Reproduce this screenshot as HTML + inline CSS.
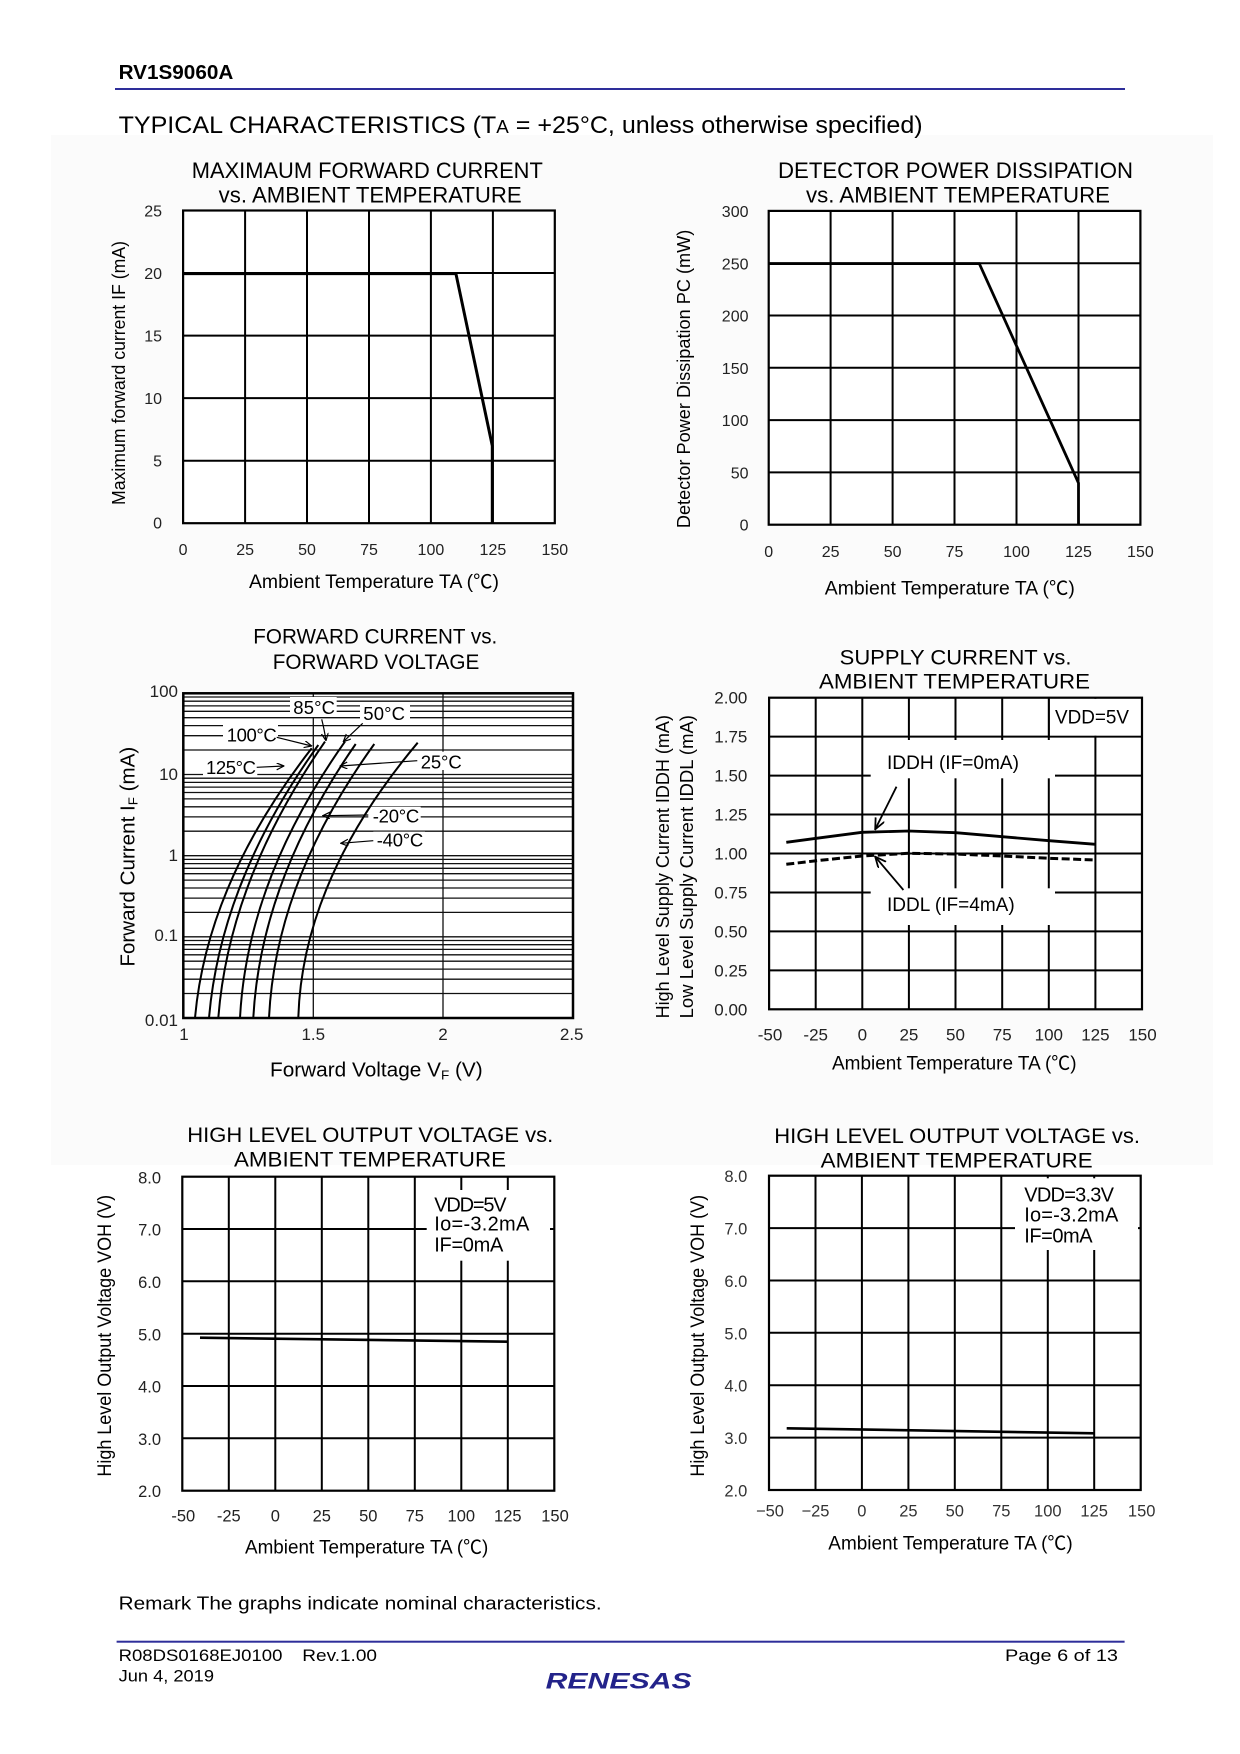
<!DOCTYPE html>
<html><head><meta charset="utf-8"><style>html,body{margin:0;padding:0;background:#fff}svg{display:block}</style></head>
<body>
<svg width="1240" height="1754" viewBox="0 0 1240 1754" xmlns="http://www.w3.org/2000/svg" font-family="'Liberation Sans', 'Noto Sans CJK JP', Arial, sans-serif" fill="#000">
<defs>
<marker id="ah" viewBox="0 0 8 8" refX="7.5" refY="3.5" markerWidth="8" markerHeight="8" markerUnits="userSpaceOnUse" orient="auto"><path d="M0,0 L7.5,3.5 L0,7" fill="none" stroke="#000" stroke-width="1.2"/></marker>
<marker id="ah2" viewBox="0 0 12 12" refX="11" refY="5" markerWidth="12" markerHeight="12" markerUnits="userSpaceOnUse" orient="auto"><path d="M0,0 L11,5 L0,10" fill="none" stroke="#000" stroke-width="1.8"/></marker>
</defs>
<rect width="1240" height="1754" fill="#fff"/>
<rect x="51" y="135" width="1162" height="1030" fill="#fbfbfb"/>

<!-- Header -->
<text x="118.6" y="79" font-size="20" font-weight="bold" textLength="114.7" lengthAdjust="spacingAndGlyphs">RV1S9060A</text>
<rect x="115" y="88" width="1010" height="2" fill="#2e2e9a"/>
<text x="118.6" y="133" font-size="24" textLength="804" lengthAdjust="spacingAndGlyphs">TYPICAL CHARACTERISTICS (T<tspan font-size="18">A</tspan> = +25°C, unless otherwise specified)</text>

<!-- ============ Chart 1 ============ -->
<text x="191.8" y="178.2" font-size="22" textLength="351" lengthAdjust="spacingAndGlyphs">MAXIMAUM FORWARD CURRENT</text>
<text x="218.7" y="202.3" font-size="22" textLength="303" lengthAdjust="spacingAndGlyphs">vs. AMBIENT TEMPERATURE</text>
<rect x="183.1" y="210.5" width="371.7" height="312.7" fill="#fff"/>
<path d="M245.1,210.5V523.2M307,210.5V523.2M369,210.5V523.2M430.9,210.5V523.2M492.9,210.5V523.2M183.1,273H554.8M183.1,335.6H554.8M183.1,398.1H554.8M183.1,460.7H554.8" stroke="#000" stroke-width="2" fill="none"/>
<rect x="183.1" y="210.5" width="371.7" height="312.7" fill="none" stroke="#000" stroke-width="2.2"/>
<path d="M183.1,273.6H455.9L492.3,445.8V523.2" fill="none" stroke="#000" stroke-width="3"/>
<g font-size="16" text-anchor="end" fill="#222">
<text x="162" y="216.5">25</text><text x="162" y="279">20</text><text x="162" y="341.6">15</text><text x="162" y="404.1">10</text><text x="162" y="466.7">5</text><text x="162" y="528.7">0</text>
</g>
<g font-size="16" text-anchor="middle" fill="#222">
<text x="183.1" y="555">0</text><text x="245.1" y="555">25</text><text x="307" y="555">50</text><text x="369" y="555">75</text><text x="430.9" y="555">100</text><text x="492.9" y="555">125</text><text x="554.8" y="555">150</text>
</g>
<text x="249" y="588" font-size="19" textLength="250" lengthAdjust="spacingAndGlyphs">Ambient Temperature  TA  (℃)</text>
<text transform="translate(125,373) rotate(-90)" text-anchor="middle" font-size="18" textLength="264" lengthAdjust="spacingAndGlyphs">Maximum forward current IF  (mA)</text>

<!-- ============ Chart 2 ============ -->
<text x="778" y="178.2" font-size="22" textLength="355" lengthAdjust="spacingAndGlyphs">DETECTOR POWER DISSIPATION</text>
<text x="806" y="202.3" font-size="22" textLength="304" lengthAdjust="spacingAndGlyphs">vs. AMBIENT TEMPERATURE</text>
<rect x="768.7" y="210.9" width="371.7" height="313.8" fill="#fff"/>
<path d="M830.6,210.9V524.7M892.6,210.9V524.7M954.5,210.9V524.7M1016.5,210.9V524.7M1078.5,210.9V524.7M768.7,263.2H1140.4M768.7,315.5H1140.4M768.7,367.8H1140.4M768.7,420.1H1140.4M768.7,472.4H1140.4" stroke="#000" stroke-width="2" fill="none"/>
<rect x="768.7" y="210.9" width="371.7" height="313.8" fill="none" stroke="#000" stroke-width="2.2"/>
<path d="M768.7,263.6H979.3L1078.5,483V524.7" fill="none" stroke="#000" stroke-width="2.8"/>
<g font-size="16" text-anchor="end" fill="#222">
<text x="748.5" y="217">300</text><text x="748.5" y="269.3">250</text><text x="748.5" y="321.6">200</text><text x="748.5" y="373.9">150</text><text x="748.5" y="426.2">100</text><text x="748.5" y="478.5">50</text><text x="748.5" y="530.5">0</text>
</g>
<g font-size="16" text-anchor="middle" fill="#222">
<text x="768.7" y="557">0</text><text x="830.6" y="557">25</text><text x="892.6" y="557">50</text><text x="954.5" y="557">75</text><text x="1016.5" y="557">100</text><text x="1078.5" y="557">125</text><text x="1140.4" y="557">150</text>
</g>
<text x="824.8" y="594.3" font-size="19" textLength="250" lengthAdjust="spacingAndGlyphs">Ambient Temperature  TA  (℃)</text>
<text transform="translate(690,378.9) rotate(-90)" text-anchor="middle" font-size="18" textLength="298.5" lengthAdjust="spacingAndGlyphs">Detector Power Dissipation  PC (mW)</text>

<!-- ============ Chart 3 ============ -->
<text x="253.3" y="643.5" font-size="21" textLength="244" lengthAdjust="spacingAndGlyphs">FORWARD CURRENT vs.</text>
<text x="272.7" y="669.2" font-size="21" textLength="206.6" lengthAdjust="spacingAndGlyphs">FORWARD VOLTAGE</text>
<rect x="183.3" y="693.3" width="389.7" height="324.7" fill="#fff"/>
<path d="M183.3,697H573M183.3,701.2H573M183.3,705.9H573M183.3,711.3H573M183.3,717.7H573M183.3,725.6H573M183.3,735.7H573M183.3,750H573M183.3,774.5H573
M183.3,778.2H573M183.3,782.4H573M183.3,787.1H573M183.3,792.5H573M183.3,798.9H573M183.3,806.8H573M183.3,816.9H573M183.3,831.2H573M183.3,855.7H573
M183.3,859.4H573M183.3,863.6H573M183.3,868.3H573M183.3,873.7H573M183.3,880.1H573M183.3,888H573M183.3,898.1H573M183.3,912.4H573M183.3,936.8H573
M183.3,940.5H573M183.3,944.7H573M183.3,949.4H573M183.3,954.8H573M183.3,961.2H573M183.3,969.1H573M183.3,979.2H573M183.3,993.5H573
M313.3,693.3V1018M443,693.3V1018" stroke="#111" stroke-width="1.3" fill="none"/>
<rect x="183.3" y="693.3" width="389.7" height="324.7" fill="none" stroke="#000" stroke-width="2.5"/>
<!-- label backgrounds -->
<g fill="#fff">
<rect x="290" y="697" width="46.7" height="20"/>
<rect x="360" y="705" width="50" height="17"/>
<rect x="223" y="725" width="55" height="18.5"/>
<rect x="203" y="756.7" width="54.3" height="19.3"/>
<rect x="417.3" y="751.7" width="46" height="18.3"/>
<rect x="368.3" y="806.7" width="52.4" height="18.3"/>
<rect x="373.3" y="831.7" width="51.7" height="17.6"/>
</g>
<g font-size="18.5" lengthAdjust="spacingAndGlyphs">
<text x="293.3" y="714" textLength="41.7">85°C</text>
<text x="363.3" y="720" textLength="41.7">50°C</text>
<text x="226.7" y="741.7" textLength="50">100°C</text>
<text x="206" y="774" textLength="50">125°C</text>
<text x="420.7" y="768.3" textLength="41">25°C</text>
<text x="372.7" y="822.7" textLength="46.6">-20°C</text>
<text x="376.7" y="846.7" textLength="46.6">-40°C</text>
</g>
<g fill="none" stroke="#000" stroke-width="2">
<path d="M195,1018 Q207,882.6 311.7,748.3"/>
<path d="M209,1018 Q220.7,880.7 318.3,745"/>
<path d="M218.3,1018 Q229,879.8 325,741.6"/>
<path d="M240,1018 Q247.1,879.8 345,741.6"/>
<path d="M253.3,1018 Q260.6,881 355.7,744"/>
<path d="M269,1018 Q275.5,881 374.3,744"/>
<path d="M298.3,1018 Q302.2,880.4 417.7,742.7"/>
</g>
<g fill="none" stroke="#000" stroke-width="1.2" marker-end="url(#ah)">
<path d="M276.7,737.3L311.7,746"/>
<path d="M321.7,719.3Q324,728 326,740.7"/>
<path d="M362.7,723.3L343.3,741.7"/>
<path d="M256.7,767.3L284,766"/>
<path d="M417.3,760.7L340,766"/>
<path d="M368.3,815L322.7,815.7"/>
<path d="M373.3,840.7L340.7,843.3"/>
</g>
<g font-size="17" text-anchor="end" fill="#222">
<text x="178" y="697">100</text><text x="178" y="780">10</text><text x="178" y="861">1</text><text x="178" y="941">0.1</text><text x="178" y="1026">0.01</text>
</g>
<g font-size="17" text-anchor="middle" fill="#222">
<text x="184" y="1040">1</text><text x="313.3" y="1040">1.5</text><text x="443" y="1040">2</text><text x="571.7" y="1040">2.5</text>
</g>
<text x="270" y="1076.7" font-size="20" textLength="212.7" lengthAdjust="spacingAndGlyphs">Forward Voltage V<tspan font-size="13" dy="3">F</tspan><tspan dy="-3"> (V)</tspan></text>
<text transform="translate(134.5,856.7) rotate(-90)" text-anchor="middle" font-size="20" textLength="220" lengthAdjust="spacingAndGlyphs">Forward Current I<tspan font-size="13" dy="3">F</tspan><tspan dy="-3"> (mA)</tspan></text>

<!-- ============ Chart 4 ============ -->
<text x="839.7" y="664.4" font-size="21" textLength="231.8" lengthAdjust="spacingAndGlyphs">SUPPLY CURRENT vs.</text>
<text x="819" y="688.7" font-size="21" textLength="271" lengthAdjust="spacingAndGlyphs">AMBIENT TEMPERATURE</text>
<rect x="769.1" y="697.7" width="372.9" height="311.6" fill="#fff"/>
<path d="M815.7,697.7V1009.3M862.3,697.7V1009.3M908.9,697.7V1009.3M955.5,697.7V1009.3M1002.2,697.7V1009.3M1048.8,697.7V1009.3M1095.4,697.7V1009.3
M769.1,736.65H1142M769.1,775.6H1142M769.1,814.55H1142M769.1,853.5H1142M769.1,892.45H1142M769.1,931.4H1142M769.1,970.35H1142" stroke="#000" stroke-width="2" fill="none"/>
<rect x="1050" y="698.8" width="91" height="36.8" fill="#fff"/>
<path d="M1049.3,697.7V736.6" stroke="#000" stroke-width="1"/>
<rect x="870.7" y="740" width="184.3" height="38.3" fill="#fff"/>
<rect x="870.7" y="888.3" width="184.3" height="36.7" fill="#fff"/>
<rect x="769.1" y="697.7" width="372.9" height="311.6" fill="none" stroke="#000" stroke-width="2.2"/>
<text x="1055" y="723.3" font-size="19" textLength="74" lengthAdjust="spacingAndGlyphs">VDD=5V</text>
<text x="887" y="769" font-size="19" textLength="132" lengthAdjust="spacingAndGlyphs">IDDH (IF=0mA)</text>
<text x="887" y="911" font-size="19" textLength="127.7" lengthAdjust="spacingAndGlyphs">IDDL (IF=4mA)</text>
<polyline points="786.3,842.3 816.3,838.3 862.1,832.3 908.6,831 955.8,832.7 1002.3,836.7 1049.1,840.7 1095.6,844.3" fill="none" stroke="#000" stroke-width="2.8" stroke-linejoin="round"/>
<polyline points="786.3,864.3 816.3,860.7 862.1,856 908.6,853.3 955.8,854 1002.3,856 1049.1,858.3 1095.6,860" fill="none" stroke="#000" stroke-width="3" stroke-dasharray="8,3.5"/>
<g fill="none" stroke="#000" stroke-width="1.8" marker-end="url(#ah2)">
<path d="M896.5,786.7L875.2,829.3"/>
<path d="M903.4,890L875.2,856.7"/>
</g>
<g font-size="17" text-anchor="end" fill="#222">
<text x="747.4" y="703.7">2.00</text><text x="747.4" y="742.6">1.75</text><text x="747.4" y="781.6">1.50</text><text x="747.4" y="820.5">1.25</text><text x="747.4" y="859.5">1.00</text><text x="747.4" y="898.4">0.75</text><text x="747.4" y="937.4">0.50</text><text x="747.4" y="976.3">0.25</text><text x="747.4" y="1015.3">0.00</text>
</g>
<g font-size="17" text-anchor="middle" fill="#222">
<text x="770" y="1040.7">-50</text><text x="815.7" y="1040.7">-25</text><text x="862.3" y="1040.7">0</text><text x="908.9" y="1040.7">25</text><text x="955.5" y="1040.7">50</text><text x="1002.2" y="1040.7">75</text><text x="1048.8" y="1040.7">100</text><text x="1095.4" y="1040.7">125</text><text x="1142.5" y="1040.7">150</text>
</g>
<text x="832" y="1069.3" font-size="19" textLength="244.6" lengthAdjust="spacingAndGlyphs">Ambient Temperature TA  (℃)</text>
<text transform="translate(669,866.7) rotate(-90)" text-anchor="middle" font-size="18.5" textLength="303.3" lengthAdjust="spacingAndGlyphs">High Level Supply Current IDDH  (mA)</text>
<text transform="translate(693,866.7) rotate(-90)" text-anchor="middle" font-size="18.5" textLength="303.3" lengthAdjust="spacingAndGlyphs">Low Level Supply Current IDDL  (mA)</text>

<!-- ============ Chart 5 ============ -->
<text x="187.3" y="1142" font-size="21.5" textLength="366" lengthAdjust="spacingAndGlyphs">HIGH LEVEL OUTPUT VOLTAGE vs.</text>
<text x="234" y="1166.3" font-size="21.5" textLength="272" lengthAdjust="spacingAndGlyphs">AMBIENT TEMPERATURE</text>
<rect x="182.3" y="1176.7" width="372" height="314" fill="#fff"/>
<path d="M228.8,1176.7V1490.7M275.3,1176.7V1490.7M321.8,1176.7V1490.7M368.3,1176.7V1490.7M414.8,1176.7V1490.7M461.3,1176.7V1490.7M507.8,1176.7V1490.7
M182.3,1229H554.3M182.3,1281.3H554.3M182.3,1333.7H554.3M182.3,1386H554.3M182.3,1438.3H554.3" stroke="#000" stroke-width="2" fill="none"/>
<rect x="426.7" y="1190" width="123.3" height="70.7" fill="#fff"/>
<rect x="182.3" y="1176.7" width="372" height="314" fill="none" stroke="#000" stroke-width="2.2"/>
<g font-size="20" lengthAdjust="spacingAndGlyphs">
<text x="434.3" y="1211.7" textLength="72.3">VDD=5V</text>
<text x="434.3" y="1230.7" textLength="95">Io=-3.2mA</text>
<text x="434.3" y="1251.7" textLength="69">IF=0mA</text>
</g>
<path d="M200,1337.7L508.3,1341.7" stroke="#000" stroke-width="2.6" fill="none"/>
<g font-size="16.5" text-anchor="end" fill="#222">
<text x="161" y="1183.3">8.0</text><text x="161" y="1235.6">7.0</text><text x="161" y="1287.9">6.0</text><text x="161" y="1340.3">5.0</text><text x="161" y="1392.6">4.0</text><text x="161" y="1444.9">3.0</text><text x="161" y="1497.2">2.0</text>
</g>
<g font-size="16.5" text-anchor="middle" fill="#222">
<text x="183.3" y="1521.7">-50</text><text x="228.8" y="1521.7">-25</text><text x="275.3" y="1521.7">0</text><text x="321.8" y="1521.7">25</text><text x="368.3" y="1521.7">50</text><text x="414.8" y="1521.7">75</text><text x="461.3" y="1521.7">100</text><text x="507.8" y="1521.7">125</text><text x="555" y="1521.7">150</text>
</g>
<text x="245" y="1553.3" font-size="19" textLength="243.3" lengthAdjust="spacingAndGlyphs">Ambient Temperature TA  (℃)</text>
<text transform="translate(111,1335.8) rotate(-90)" text-anchor="middle" font-size="19" textLength="281.7" lengthAdjust="spacingAndGlyphs">High Level Output Voltage VOH (V)</text>

<!-- ============ Chart 6 ============ -->
<text x="774.3" y="1143" font-size="21.5" textLength="365.7" lengthAdjust="spacingAndGlyphs">HIGH LEVEL OUTPUT VOLTAGE vs.</text>
<text x="820.7" y="1167.3" font-size="21.5" textLength="272" lengthAdjust="spacingAndGlyphs">AMBIENT TEMPERATURE</text>
<rect x="769" y="1175.7" width="371.7" height="314.3" fill="#fff"/>
<path d="M815.5,1175.7V1490M861.9,1175.7V1490M908.4,1175.7V1490M954.8,1175.7V1490M1001.3,1175.7V1490M1047.8,1175.7V1490M1094.2,1175.7V1490
M769,1228.1H1140.7M769,1280.5H1140.7M769,1332.8H1140.7M769,1385.2H1140.7M769,1437.6H1140.7" stroke="#000" stroke-width="2" fill="none"/>
<rect x="1015" y="1178.3" width="123" height="71.7" fill="#fff"/>
<rect x="769" y="1175.7" width="371.7" height="314.3" fill="none" stroke="#000" stroke-width="2.2"/>
<g font-size="20" lengthAdjust="spacingAndGlyphs">
<text x="1024.3" y="1201.7" textLength="89.7">VDD=3.3V</text>
<text x="1024.3" y="1221.7" textLength="94">Io=-3.2mA</text>
<text x="1024.3" y="1242.3" textLength="68.3">IF=0mA</text>
</g>
<path d="M786.7,1428.3L1095,1433.3" stroke="#000" stroke-width="2.6" fill="none"/>
<g font-size="16.5" text-anchor="end" fill="#333">
<text x="747.3" y="1182.2">8.0</text><text x="747.3" y="1234.6">7.0</text><text x="747.3" y="1287">6.0</text><text x="747.3" y="1339.3">5.0</text><text x="747.3" y="1391.7">4.0</text><text x="747.3" y="1444.1">3.0</text><text x="747.3" y="1496.5">2.0</text>
</g>
<g font-size="16.5" text-anchor="middle" fill="#333">
<text x="770" y="1516.7">−50</text><text x="815.5" y="1516.7">−25</text><text x="861.9" y="1516.7">0</text><text x="908.4" y="1516.7">25</text><text x="954.8" y="1516.7">50</text><text x="1001.3" y="1516.7">75</text><text x="1047.8" y="1516.7">100</text><text x="1094.2" y="1516.7">125</text><text x="1141.7" y="1516.7">150</text>
</g>
<text x="828.3" y="1549.3" font-size="19" textLength="244.4" lengthAdjust="spacingAndGlyphs">Ambient Temperature TA  (℃)</text>
<text transform="translate(704,1335.8) rotate(-90)" text-anchor="middle" font-size="19" textLength="281.7" lengthAdjust="spacingAndGlyphs">High Level Output Voltage VOH (V)</text>

<!-- Remark & footer -->
<text x="118.6" y="1609.3" font-size="18" textLength="483" lengthAdjust="spacingAndGlyphs">Remark The graphs indicate nominal characteristics.</text>
<rect x="116.6" y="1640.7" width="1008" height="2" fill="#2e2e9a"/>
<text x="118.6" y="1661" font-size="17" textLength="163.8" lengthAdjust="spacingAndGlyphs">R08DS0168EJ0100</text>
<text x="302.3" y="1661" font-size="17" textLength="74.7" lengthAdjust="spacingAndGlyphs">Rev.1.00</text>
<text x="118.6" y="1681.7" font-size="17" textLength="95.4" lengthAdjust="spacingAndGlyphs">Jun 4, 2019</text>
<text x="1005" y="1661" font-size="17" textLength="113" lengthAdjust="spacingAndGlyphs">Page 6 of 13</text>
<text x="545.6" y="1688.5" font-size="22" font-weight="bold" font-style="italic" fill="#23238a" textLength="146" lengthAdjust="spacingAndGlyphs">RENESAS</text>
</svg>
</body></html>
